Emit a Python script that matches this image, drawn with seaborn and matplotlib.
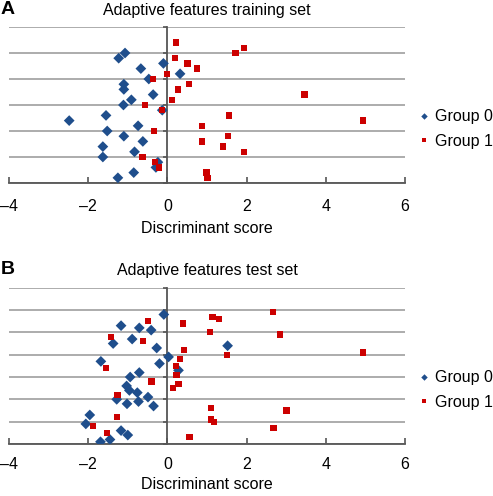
import seaborn as sns
import matplotlib.pyplot as plt
import pandas as pd

# Panel A: training set (score, vertical position)
train_g0_score = [-1.07, -1.23, -0.10, -0.67, 0.32, -0.47, -1.10, -1.10, -0.36, -0.91, -1.11, -0.13, -1.55,
                  -2.48, -0.74, -1.52, -1.10, -0.62, -1.63, -0.83, -1.63, -0.24, -0.29, -0.85, -1.25]
train_g0_pos = [5.0, 4.8, 4.6, 4.4, 4.2, 4.0, 3.8, 3.6, 3.4, 3.2, 3.0, 2.8, 2.6,
                2.4, 2.2, 2.0, 1.8, 1.6, 1.4, 1.2, 1.0, 0.8, 0.6, 0.4, 0.2]
train_g1_score = [0.21, 1.93, 1.72, 0.19, 0.51, 0.75, -0.01, -0.36, 0.55, 0.27, 3.46, 0.12, -0.56, -0.14,
                  1.56, 4.94, 0.87, -0.33, 1.53, 0.87, 1.40, 1.93, -0.63, -0.31, -0.21, 0.99, 1.01]
train_g1_pos = [5.4, 5.2, 5.0, 4.8, 4.6, 4.4, 4.2, 4.0, 3.8, 3.6, 3.4, 3.2, 3.0, 2.8,
                2.6, 2.4, 2.2, 2.0, 1.8, 1.6, 1.4, 1.2, 1.0, 0.8, 0.6, 0.4, 0.2]

# Panel B: test set
test_g0_score = [-0.09, -1.17, -0.71, -0.41, -0.89, -1.37, 1.52, -0.27, 0.03, -1.68, -0.20, 0.28, -0.71, -0.94,
                 -1.03, -0.96, -0.76, -0.49, -1.28, -0.73, -1.02, -0.35, -1.96, -2.06, -1.17, -1.00, -1.45, -1.69]
test_g0_pos = [5.8, 5.3, 5.2, 5.1, 4.7, 4.5, 4.4, 4.3, 3.9, 3.7, 3.6, 3.3, 3.2, 3.0,
               2.6, 2.4, 2.3, 2.1, 2.0, 1.9, 1.8, 1.7, 1.3, 0.9, 0.6, 0.4, 0.2, 0.1]
test_g1_score = [2.66, 1.14, 1.30, -0.49, 0.39, 1.08, 2.84, -1.43, -0.61, 0.41, 4.94, 1.51, 0.32, 0.21, -1.55,
                 0.23, -0.40, 0.28, 0.14, -1.26, 1.10, 3.01, -1.28, 1.11, 1.17, -1.87, 2.68, -1.52, 0.56]
test_g1_pos = [5.9, 5.7, 5.6, 5.5, 5.4, 5.0, 4.9, 4.8, 4.6, 4.2, 4.1, 4.0, 3.8, 3.5, 3.4,
               3.1, 2.8, 2.7, 2.5, 2.2, 1.6, 1.5, 1.2, 1.1, 1.0, 0.8, 0.7, 0.5, 0.3]

groups = ['Group 0', 'Group 1']
xticks = [-4, -2, 0, 2, 4, 6]

plt.rcParams['font.family'] = ['Liberation Sans', 'DejaVu Sans']
plt.rcParams['font.size'] = 11.5


def make_df(s0, p0, s1, p1):
    return pd.DataFrame({
        'score': s0 + s1,
        'pos': p0 + p1,
        'group': [groups[0]] * len(s0) + [groups[1]] * len(s1),
    })


def draw(ax, df, title, ytop, tickpad, labelpad):
    sns.scatterplot(data=df, x='score', y='pos', hue='group', style='group',
                    palette={'Group 0': '#1f4e8c', 'Group 1': '#cc0000'},
                    markers={'Group 0': 'D', 'Group 1': 's'},
                    size='group', sizes={'Group 0': 30, 'Group 1': 20},
                    edgecolor='none', linewidth=0, zorder=3, ax=ax)
    ax.set_xlim(-4, 6)
    ax.set_ylim(0, ytop)
    ax.set_xticks(xticks)
    ax.set_xticklabels([str(t).replace('-', '\u2013') for t in xticks])
    ax.set_yticks(range(0, ytop + 1))
    ax.set_yticklabels([])
    ax.yaxis.grid(True, color='#a6a6a6', linewidth=1.3)
    ax.set_axisbelow(True)
    for side in ['top', 'right']:
        ax.spines[side].set_visible(False)
    ax.spines['left'].set_position(('data', 0))
    for side in ['left', 'bottom']:
        ax.spines[side].set_color('#555555')
        ax.spines[side].set_linewidth(1.3)
        ax.spines[side].set_zorder(2.5)
    ax.tick_params(axis='x', direction='in', length=4, width=1.2, color='#555555', pad=tickpad)
    ax.tick_params(axis='y', direction='out', length=3, width=1.2, color='#555555')
    ax.set_ylabel('')
    ax.set_xlabel('Discriminant score', labelpad=labelpad)
    ax.set_title(title, fontsize=11.5, pad=9)
    sns.move_legend(ax, 'center left', bbox_to_anchor=(1.01, 0.345), frameon=False, title=None,
                    handlelength=0.7, handletextpad=0.35, labelspacing=0.6, borderaxespad=0.2,
                    markerscale=0.6)


fig = plt.figure(figsize=(4.93, 4.96), dpi=100)
axA = fig.add_axes([9 / 493, 1 - 183 / 496, 396 / 493, 156 / 496])
axB = fig.add_axes([9 / 493, 1 - 444 / 496, 396 / 493, 156.3 / 496])

draw(axA, make_df(train_g0_score, train_g0_pos, train_g1_score, train_g1_pos),
     'Adaptive features training set', 6, 11.5, 5)
draw(axB, make_df(test_g0_score, test_g0_pos, test_g1_score, test_g1_pos),
     'Adaptive features test set', 7, 9.5, 3.5)

fig.text(0.002, 1 - 10 / 496, 'A', fontsize=14, fontweight='bold', va='center')
fig.text(0.002, 1 - 269 / 496, 'B', fontsize=14, fontweight='bold', va='center')

fig.savefig('out.png', dpi=100)
